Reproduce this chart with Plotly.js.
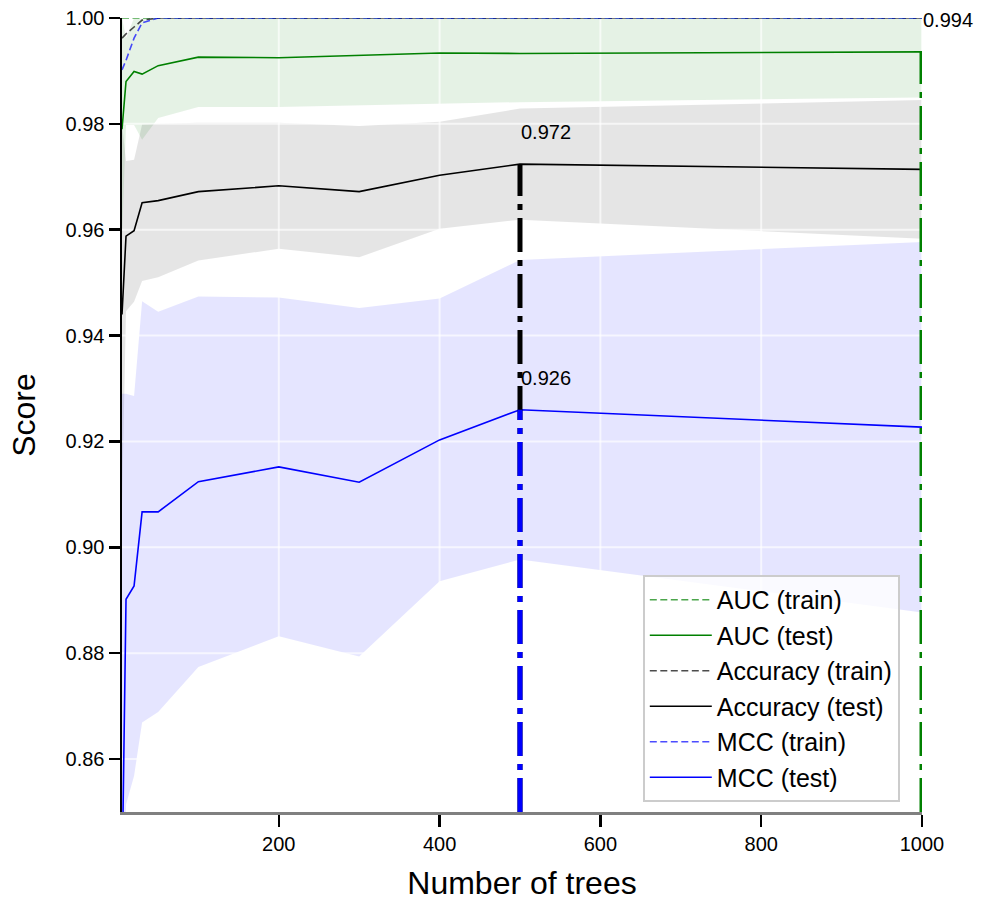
<!DOCTYPE html>
<html>
<head>
<meta charset="utf-8">
<script src="https://cdn.plot.ly/plotly-3.0.1.min.js"></script>
<style>
html,body{margin:0;padding:0;background:#fff;}
#chart{width:984px;height:901px;}
</style>
</head>
<body>
<div id="chart"></div>
<script>
// Number of trees
const nTrees = [5, 10, 20, 30, 50, 100, 200, 300, 400, 500, 1000];

// AUC
const aucTrain = [1, 1, 1, 1, 1, 1, 1, 1, 1, 1, 1];
const aucTest  = [0.979, 0.988, 0.9899, 0.9894, 0.991, 0.9926, 0.9925, 0.993, 0.9934, 0.9933, 0.9936];
const aucStd   = [0.021, 0.0082, 0.0101, 0.0124, 0.0099, 0.0094, 0.0093, 0.0096, 0.0096, 0.0092, 0.0086];

// Accuracy
const accTrain = [0.9962, 0.997, 0.9983, 0.9996, 1, 1, 1, 1, 1, 1, 1];
const accTest  = [0.944, 0.9588, 0.9598, 0.9651, 0.9655, 0.9672, 0.9683, 0.9672, 0.9703, 0.9724, 0.9714];
const accStd   = [0.036, 0.0142, 0.0134, 0.0148, 0.0145, 0.013, 0.0119, 0.0124, 0.0101, 0.0105, 0.0131];

// MCC
const mccTrain = [0.9902, 0.992, 0.9962, 0.9991, 1, 1, 1, 1, 1, 1, 1];
const mccTest  = [0.836, 0.8902, 0.8927, 0.9067, 0.9067, 0.9124, 0.9152, 0.9123, 0.9203, 0.926, 0.9227];
const mccStd   = [0.093, 0.0388, 0.0359, 0.0398, 0.0378, 0.035, 0.032, 0.0329, 0.0267, 0.0283, 0.035];

// Axis ticks
const xTicks = [200, 400, 600, 800, 1000];
const yTicks = [0.86, 0.88, 0.90, 0.92, 0.94, 0.96, 0.98, 1.00];
const xRange = [5, 1000];
const yRange = [0.85, 1.0];

const FONT = 'Liberation Sans, Arial, Helvetica, sans-serif';

function band(mean, std, color) {
  const hi = mean.map((m, i) => m + std[i]);
  const lo = mean.map((m, i) => m - std[i]);
  return {
    x: nTrees.concat(nTrees.slice().reverse()),
    y: hi.concat(lo.slice().reverse()),
    fill: 'toself', fillcolor: color, mode: 'lines',
    line: {width: 0, color: 'rgba(0,0,0,0)'},
    hoverinfo: 'skip', showlegend: false
  };
}

function argmax(a) { let k = 0; a.forEach((v, i) => { if (v > a[k]) k = i; }); return k; }

const traces = [];
traces.push(band(aucTest, aucStd, 'rgba(0,128,0,0.1)'));
traces.push(band(accTest, accStd, 'rgba(0,0,0,0.1)'));
traces.push(band(mccTest, mccStd, 'rgba(0,0,255,0.1)'));

// white grid lines drawn above the bands
const gx = [], gy = [];
yTicks.forEach(t => { gx.push(xRange[0], xRange[1], null); gy.push(t, t, null); });
xTicks.forEach(t => { gx.push(t, t, null); gy.push(yRange[0], yRange[1], null); });
traces.push({x: gx, y: gy, mode: 'lines', line: {color: 'rgba(255,255,255,0.65)', width: 2},
  hoverinfo: 'skip', showlegend: false, connectgaps: false});

const DASH = '7px,3.5px';
const series = [
  {name: 'AUC (train)', y: aucTrain, color: 'rgba(0,128,0,0.7)', dash: DASH},
  {name: 'AUC (test)', y: aucTest, color: '#008000', dash: 'solid'},
  {name: 'Accuracy (train)', y: accTrain, color: 'rgba(0,0,0,0.7)', dash: DASH},
  {name: 'Accuracy (test)', y: accTest, color: '#000000', dash: 'solid'},
  {name: 'MCC (train)', y: mccTrain, color: 'rgba(0,0,255,0.7)', dash: DASH},
  {name: 'MCC (test)', y: mccTest, color: '#0000ff', dash: 'solid'}
];
series.forEach((s, i) => {
  traces.push({x: nTrees, y: s.y, name: s.name, mode: 'lines',
    line: {color: s.color, width: 1.6, dash: s.dash}, legendgroup: 'g' + i});
});

// best-value markers
const best = [
  {y: aucTest, color: '#008000', width: 5},
  {y: accTest, color: '#000000', width: 5},
  {y: mccTest, color: '#0000ff', width: 5}
];
const annotations = [];
best.forEach(b => {
  const k = argmax(b.y);
  traces.push({x: [nTrees[k], nTrees[k]], y: [yRange[0], b.y[k]], mode: 'lines',
    line: {color: b.color, width: b.width, dash: '34px,8px,6px,8px'}, hoverinfo: 'skip', showlegend: false});
  annotations.push({x: nTrees[k], y: b.y[k], xref: 'x', yref: 'y', text: b.y[k].toFixed(3),
    showarrow: false, xanchor: 'left', yanchor: 'middle', yshift: 32, xshift: -1,
    font: {family: FONT, size: 20, color: '#000'}});
});

const layout = {
  width: 984, height: 901,
  margin: {l: 122, r: 62, t: 18, b: 89},
  paper_bgcolor: '#fff', plot_bgcolor: '#fff',
  font: {family: FONT, color: '#000'},
  showlegend: true,
  xaxis: {
    range: xRange, tickvals: xTicks, ticktext: xTicks.map(String),
    ticks: 'outside', ticklen: 12, tickwidth: 2.5, tickcolor: '#000',
    showline: true, linecolor: '#808080', linewidth: 3, showgrid: false, zeroline: false,
    tickfont: {size: 20, family: FONT, color: '#000'},
    title: {text: 'Number of trees', font: {size: 32, family: FONT, color: '#000'}, standoff: 19},
    automargin: false
  },
  yaxis: {
    range: yRange, tickvals: yTicks, ticktext: yTicks.map(v => v.toFixed(2)),
    ticks: 'outside', ticklen: 11, tickwidth: 2.5, tickcolor: '#000',
    showline: true, linecolor: '#000', linewidth: 2.5, showgrid: false, zeroline: false,
    tickfont: {size: 20, family: FONT, color: '#000'},
    title: {text: 'Score', font: {size: 32, family: FONT, color: '#000'}, standoff: 21},
    automargin: false
  },
  legend: {
    x: 0.651, y: 0.2985, xanchor: 'left', yanchor: 'top',
    bgcolor: 'rgba(255,255,255,0.8)', bordercolor: '#cccccc', borderwidth: 2,
    font: {size: 25, family: FONT, color: '#000'},
    traceorder: 'grouped', tracegroupgap: 0, itemwidth: 62
  },
  annotations: annotations
};

Plotly.newPlot('chart', traces, layout, {displayModeBar: false, staticPlot: true});
</script>
</body>
</html>
